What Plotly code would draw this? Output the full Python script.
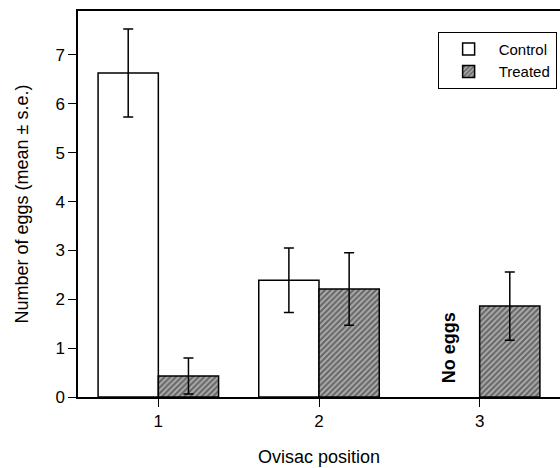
import plotly.graph_objects as go

positions = [1, 2, 3]
control_mean = [6.63, 2.39, None]
control_se = [0.90, 0.66, None]
treated_mean = [0.43, 2.21, 1.86]
treated_se = [0.37, 0.74, 0.70]
tick_vals_y = [0, 1, 2, 3, 4, 5, 6, 7]

font_family = "Liberation Sans, Arial, sans-serif"

fig = go.Figure()
fig.add_trace(go.Bar(
    x=positions, y=control_mean, name="Control",
    marker=dict(color="white", line=dict(color="black", width=1.5)),
    error_y=dict(type="data", array=control_se, color="black", thickness=1.5, width=5),
))
fig.add_trace(go.Bar(
    x=positions, y=treated_mean, name="Treated",
    marker=dict(color="#777777", line=dict(color="black", width=1.5),
                pattern=dict(shape="/", bgcolor="#ababab", fgcolor="#1e1e1e", size=4, solidity=0.5)),
    error_y=dict(type="data", array=treated_se, color="black", thickness=1.5, width=5),
))

fig.add_annotation(x=2.81, y=1.0, xref="x", yref="y", text="<b>No eggs</b>", textangle=-90,
                   showarrow=False, font=dict(family=font_family, size=18, color="black"))

fig.update_layout(
    width=560, height=468,
    margin=dict(l=78, r=0, t=11, b=71, autoexpand=False),
    paper_bgcolor="white", plot_bgcolor="white",
    barmode="group", bargap=0.25, bargroupgap=0,
    font=dict(family=font_family, size=17, color="black"),
    showlegend=True,
    legend=dict(x=0.993, y=0.946, xanchor="right", yanchor="top",
                bordercolor="black", borderwidth=1, bgcolor="white",
                font=dict(size=15), traceorder="normal", itemwidth=50),
)
fig.update_xaxes(range=[0.5, 3.5], tickvals=positions, ticktext=[str(p) for p in positions],
                 ticks="outside", ticklen=8, tickcolor="black", showline=True, linecolor="black",
                 linewidth=1.5, mirror=True, showgrid=False, zeroline=False, automargin=False,
                 title=dict(text="Ovisac position", font=dict(size=18), standoff=20))
fig.update_yaxes(range=[0, 7.9], tickvals=tick_vals_y, ticks="outside", ticklen=8, tickcolor="black",
                 showline=True, linecolor="black", linewidth=1.5, showgrid=False, zeroline=False,
                 automargin=False,
                 title=dict(text="Number of eggs (mean ± s.e.)", font=dict(size=18), standoff=22))

fig.write_html("out.html", config={"displayModeBar": False},
               post_script="document.body.style.margin='0';document.body.style.overflow='hidden';")
